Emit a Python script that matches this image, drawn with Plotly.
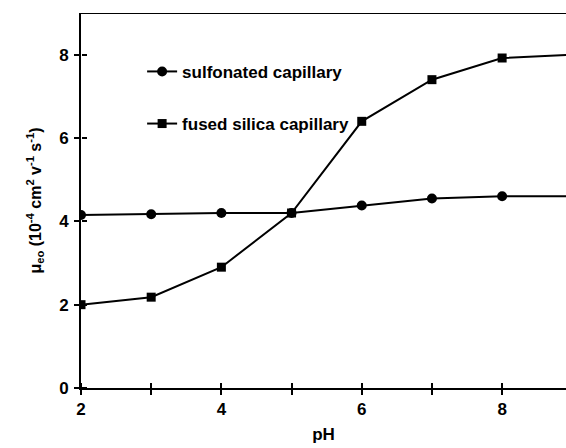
import plotly.graph_objects as go

ph = [2, 3, 4, 5, 6, 7, 8, 9]
sulfonated = [4.15, 4.17, 4.2, 4.2, 4.38, 4.55, 4.6, 4.6]
fused = [2.0, 2.18, 2.9, 4.2, 6.4, 7.4, 7.92, 8.0]
names = ["sulfonated capillary", "fused silica capillary"]
x_ticks = [2, 3, 4, 5, 6, 7, 8]
x_labels = ["2", "", "4", "", "6", "", "8"]
y_ticks = [0, 2, 4, 6, 8]
y_labels = ["0", "2", "4", "6", "8"]

FONT = "Liberation Sans, Arial, sans-serif"
FS = 17
fig = go.Figure()
fig.add_trace(go.Scatter(x=ph, y=sulfonated, name="<b>" + names[0] + "</b>",
                         mode="lines+markers",
                         line=dict(color="black", width=2),
                         marker=dict(symbol="circle", size=10, color="black"),
                         legend="legend"))
fig.add_trace(go.Scatter(x=ph, y=fused, name="<b>" + names[1] + "</b>",
                         mode="lines+markers",
                         line=dict(color="black", width=2),
                         marker=dict(symbol="square", size=9, color="black"),
                         legend="legend2"))

XR = [2, 8.91]
YR = [0, 9]
axfont = dict(family=FONT, size=FS, color="black")
fig.update_layout(
    width=566, height=448,
    margin=dict(l=81, r=0, t=13, b=60),
    paper_bgcolor="white", plot_bgcolor="white",
    font=dict(family=FONT, color="black"),
    xaxis=dict(range=XR, tickvals=x_ticks,
               ticktext=["<b>" + t + "</b>" if t else "" for t in x_labels],
               ticks="outside", ticklen=5, tickwidth=2, tickcolor="black",
               showline=True, linecolor="black", linewidth=2, showgrid=False,
               zeroline=False, tickfont=axfont,
               title=dict(text="<b>pH</b>", font=dict(family=FONT, size=FS), standoff=10)),
    yaxis=dict(range=YR, tickvals=y_ticks,
               ticktext=["<b>" + t + "</b>" for t in y_labels],
               ticks="outside", ticklen=5,
               tickwidth=2, tickcolor="black", showline=True, linecolor="black",
               linewidth=2, showgrid=False, zeroline=False, tickfont=axfont,
               ticklabelstandoff=2,
               title=dict(text="<b>μ<sub>eo</sub> (10<sup>-4</sup> cm<sup>2</sup> v<sup>-1</sup> s<sup>-1</sup>)</b>",
                          font=dict(family=FONT, size=FS - 1), standoff=14)),
    # free axes on the opposite side, placed on the main axis lines, so their
    # "outside" ticks point into the plot and the ticks cross the axis lines
    xaxis2=dict(range=XR, overlaying="x", tickvals=x_ticks, ticks="outside",
                ticklen=5, tickwidth=2, tickcolor="black", showticklabels=False,
                showgrid=False, zeroline=False, side="top", anchor="free",
                position=0),
    yaxis2=dict(range=YR, overlaying="y", tickvals=y_ticks, ticks="outside",
                ticklen=5, tickwidth=2, tickcolor="black", showticklabels=False,
                showgrid=False, zeroline=False, side="right", anchor="free",
                position=0),
    legend=dict(x=0.126, y=0.843, xanchor="left", yanchor="middle",
                bgcolor="rgba(0,0,0,0)", font=dict(family=FONT, size=FS)),
    legend2=dict(x=0.126, y=0.704, xanchor="left", yanchor="middle",
                 bgcolor="rgba(0,0,0,0)", font=dict(family=FONT, size=FS)),
)
# transparent trace to activate the overlay tick axes
fig.add_trace(go.Scatter(x=XR, y=YR, xaxis="x2", yaxis="y2", mode="markers",
                         marker=dict(opacity=0), showlegend=False, hoverinfo="skip"))
fig.add_shape(type="line", xref="paper", yref="y", x0=0, x1=1, y0=9, y1=9,
              line=dict(color="black", width=2))
fig.write_html("out.html")
